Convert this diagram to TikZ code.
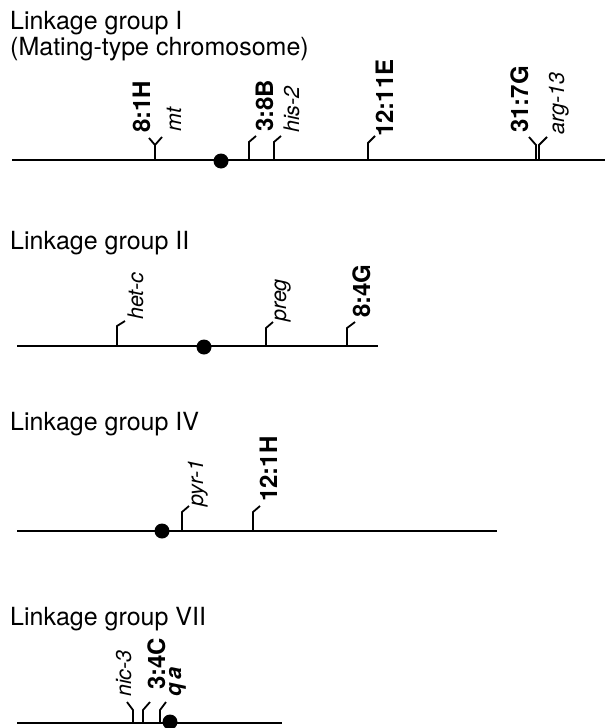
\documentclass[tikz,border=0pt]{standalone}
\usepackage{fontspec}
\setmainfont{TeX Gyre Heros}
\begin{document}
\begin{tikzpicture}[x=1pt,y=-1pt,
  chrom/.style={line width=2.4pt},
  tick/.style={line width=1.8pt},
  cen/.style={circle,fill=black,draw=none,inner sep=0pt,minimum size=15pt},
  ttl/.style={anchor=base west,inner sep=0pt,font=\fontsize{25}{26}\selectfont},
  bl/.style={rotate=90,anchor=base west,inner sep=0pt,font=\fontsize{24}{24}\selectfont\bfseries},
  il/.style={rotate=90,anchor=base west,inner sep=0pt,font=\fontsize{21.5}{22}\selectfont\itshape}]
\useasboundingbox (0,0) rectangle (605,728);

% ---------- Linkage group I ----------
\node[ttl] (t1a) at (10,29) {Linkage group I};
\node[ttl] (t1b) at (10,55) {(Mating-type chromosome)};
\coordinate (c1L) at (12,160);
\coordinate (c1R) at (605,160);
\draw[chrom] (c1L) -- (c1R);
\node[cen] (cen1) at (221,161) {};
% 8:1H / mt
\coordinate (m1) at (155,160);
\draw[line width=2.6pt] (m1) -- (155,145);
\draw[tick] (155,145) -- (149,138);
\draw[tick] (155,145) -- (162,137);
\node[bl] (l81H) at (150,133) {8:1H};
\node[il] (lmt) at (181,132) {mt};
% 3:8B
\coordinate (m2) at (249,160);
\draw[tick] (m2) -- (249,142) -- (256,136);
\node[bl] (l38B) at (273,132) {3:8B};
% his-2
\coordinate (m3) at (274,160);
\draw[tick] (m3) -- (274,142) -- (281,136);
\node[il] (lhis) at (299,133) {his-2};
% 12:11E
\coordinate (m4) at (368,160);
\draw[tick] (m4) -- (368,143) -- (375,136);
\node[bl] (l1211E) at (393,137) {12:11E};
% 31:7G / arg-13
\coordinate (m5a) at (536,160);
\coordinate (m5b) at (539,160);
\draw[tick] (m5a) -- (536,145) -- (529,137);
\draw[tick] (m5b) -- (539,145) -- (547,137);
\node[bl] (l317G) at (528,133) {31:7G};
\node[il] (larg) at (564,135) {arg-13};

% ---------- Linkage group II ----------
\node[ttl] (t2) at (10,249) {Linkage group II};
\coordinate (c2L) at (17,346);
\coordinate (c2R) at (378,346);
\draw[chrom] (c2L) -- (c2R);
\node[cen] (cen2) at (204,347) {};
\coordinate (n1) at (117,346);
\draw[tick] (n1) -- (117,326) -- (125,321);
\node[il] (lhet) at (143,320) {het-c};
\coordinate (n2) at (266,346);
\draw[tick] (n2) -- (266,328) -- (273,322);
\node[il] (lpreg) at (286,322) {preg};
\coordinate (n3) at (347,346);
\draw[tick] (n3) -- (347,328) -- (355,322);
\node[bl] (l84G) at (370,318) {8:4G};

% ---------- Linkage group IV ----------
\node[ttl] (t4) at (10,430) {Linkage group IV};
\coordinate (c4L) at (17,531);
\coordinate (c4R) at (497,531);
\draw[chrom] (c4L) -- (c4R);
\node[cen] (cen4) at (162,531) {};
\coordinate (p1) at (182,531);
\draw[tick] (p1) -- (182,512) -- (189,506);
\node[il] (lpyr) at (203,507) {pyr-1};
\coordinate (p2) at (253,531);
\draw[tick] (p2) -- (253,512) -- (260,506);
\node[bl] (l121H) at (277,502) {12:1H};

% ---------- Linkage group VII ----------
\node[ttl] (t7) at (10,625) {Linkage group VII};
\coordinate (c7L) at (17,723);
\coordinate (c7R) at (282,723);
\draw[chrom] (c7L) -- (c7R);
\node[cen] (cen7) at (170,722) {};
\coordinate (q1) at (133,723);
\draw[tick] (q1) -- (133,710) -- (127,702);
\node[il] (lnic) at (131,697) {nic-3};
\coordinate (q2) at (143,723);
\draw[tick] (q2) -- (143,710) -- (150,702);
\node[bl] (l34C) at (165,690) {3:4C};
\coordinate (q3) at (160,723);
\draw[tick] (q3) -- (160,710) -- (166,702);
\node[rotate=90,anchor=base west,inner sep=0pt,font=\fontsize{22}{22}\selectfont\bfseries\itshape] (lqa) at (181,697) {q\,a};
\end{tikzpicture}
\end{document}
